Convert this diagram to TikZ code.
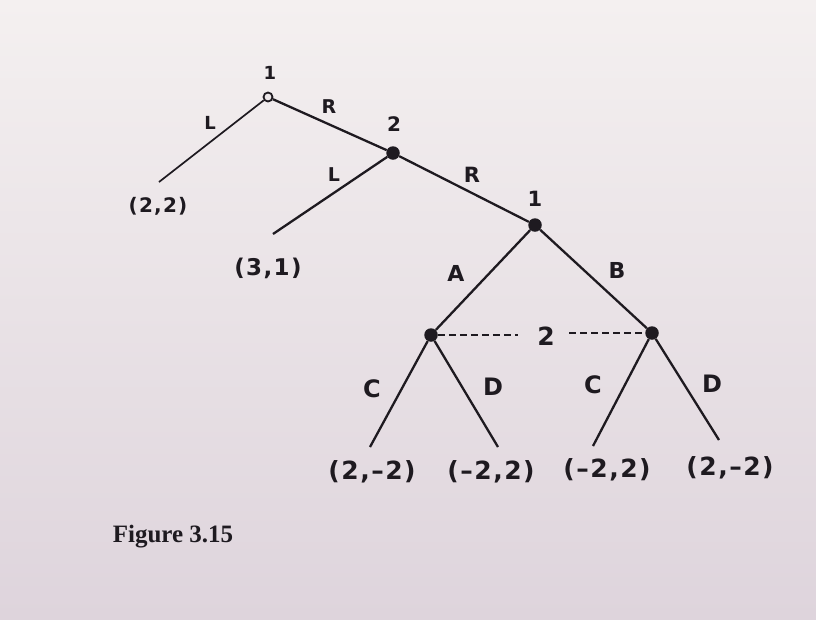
\documentclass[tikz,border=0pt]{standalone}
\usepackage{fontspec}
\setmainfont{DejaVu Sans}
\newfontfamily\capfont{Liberation Serif}
\usepackage{xcolor}
\usetikzlibrary{positioning}

\definecolor{ink}{RGB}{30,26,32}
\definecolor{paper}{RGB}{236,231,233}
\definecolor{papertop}{RGB}{244,240,240}
\definecolor{paperbot}{RGB}{222,212,220}

\tikzset{
	dec/.style={circle,fill=ink,inner sep=0pt,minimum size=13.5pt},
	opendec/.style={circle,draw=ink,fill=paper,line width=1.8pt,inner sep=0pt,minimum size=9pt},
	edge/.style={draw=ink,line width=2.3pt},
	info/.style={draw=ink,line width=2.8pt,dash pattern=on 7pt off 4pt},
	lbl/.style={text=ink,inner sep=0pt,font=\fontsize{#1}{#1}\selectfont\bfseries},
	pay/.style={text=ink,inner sep=0pt,font=\fontsize{#1}{#1}\selectfont\bfseries\addfontfeatures{LetterSpace=6}},
}

\begin{document}
\begin{tikzpicture}[x=1pt,y=-1pt]
	% page
	\shade[top color=papertop,bottom color=paperbot] (0,0) rectangle (816,619);
	\useasboundingbox (0,0) rectangle (816,619);
	
	% decision nodes
	\node[opendec] (n1) at (268,97) {};
	\node[dec] (n2) at (393,153) {};
	\node[dec] (n3) at (535,225) {};
	\node[dec] (n4) at (431,335) {};
	\node[dec] (n5) at (652,333) {};
	
	% terminal points
	\coordinate (t1) at (159,182);
	\coordinate (t2) at (273,234);
	\coordinate (t3) at (370,447);
	\coordinate (t4) at (498,447);
	\coordinate (t5) at (593,446);
	\coordinate (t6) at (719,440);
	
	% moves
	\draw[edge,line width=1.7pt] (n1) -- (t1);
	\draw[edge] (n1) -- (n2);
	\draw[edge] (n2) -- (t2);
	\draw[edge] (n2) -- (n3);
	\draw[edge] (n3) -- (n4);
	\draw[edge] (n3) -- (n5);
	\draw[edge] (n4) -- (t3);
	\draw[edge] (n4) -- (t4);
	\draw[edge] (n5) -- (t5);
	\draw[edge] (n5) -- (t6);
	
	% information set
	\node[lbl=25] (inf) at (546,336) {2};
	\coordinate (infw) at (518,335);
	\coordinate (infe) at (569,333);
	\draw[info] (n4) -- (infw);
	\draw[info] (infe) -- (n5);
	
	% player labels
	\node[lbl=18] (p1) at (270,73) {1};
	\node[lbl=20] (p2) at (394,124) {2};
	\node[lbl=21] (p3) at (535,199) {1};
	
	% move labels
	\node[lbl=18] (mL1) at (210,123) {L};
	\node[lbl=19] (mR1) at (329,107) {R};
	\node[lbl=19] (mL2) at (334,175) {L};
	\node[lbl=21] (mR2) at (472,175) {R};
	\node[lbl=22] (mA) at (456,273) {A};
	\node[lbl=22] (mB) at (617,270) {B};
	\node[lbl=24] (mC1) at (372,389) {C};
	\node[lbl=24] (mD1) at (493,387) {D};
	\node[lbl=24] (mC2) at (593,385) {C};
	\node[lbl=24] (mD2) at (712,384) {D};
	
	% payoffs
	\node[pay=20] (u1) at (158,206) {(2,2)};
	\node[pay=23] (u2) at (268,268) {(3,1)};
	\node[pay=25] (u3) at (372,472) {(2,–2)};
	\node[pay=25] (u4) at (491,472) {(–2,2)};
	\node[pay=25] (u5) at (607,470) {(–2,2)};
	\node[pay=25] (u6) at (730,468) {(2,–2)};
	
	% caption
	\node[text=ink,inner sep=0pt,font=\capfont\fontsize{25}{25}\selectfont\bfseries] (cap) at (173,537) {Figure 3.15};
\end{tikzpicture}
\end{document}
